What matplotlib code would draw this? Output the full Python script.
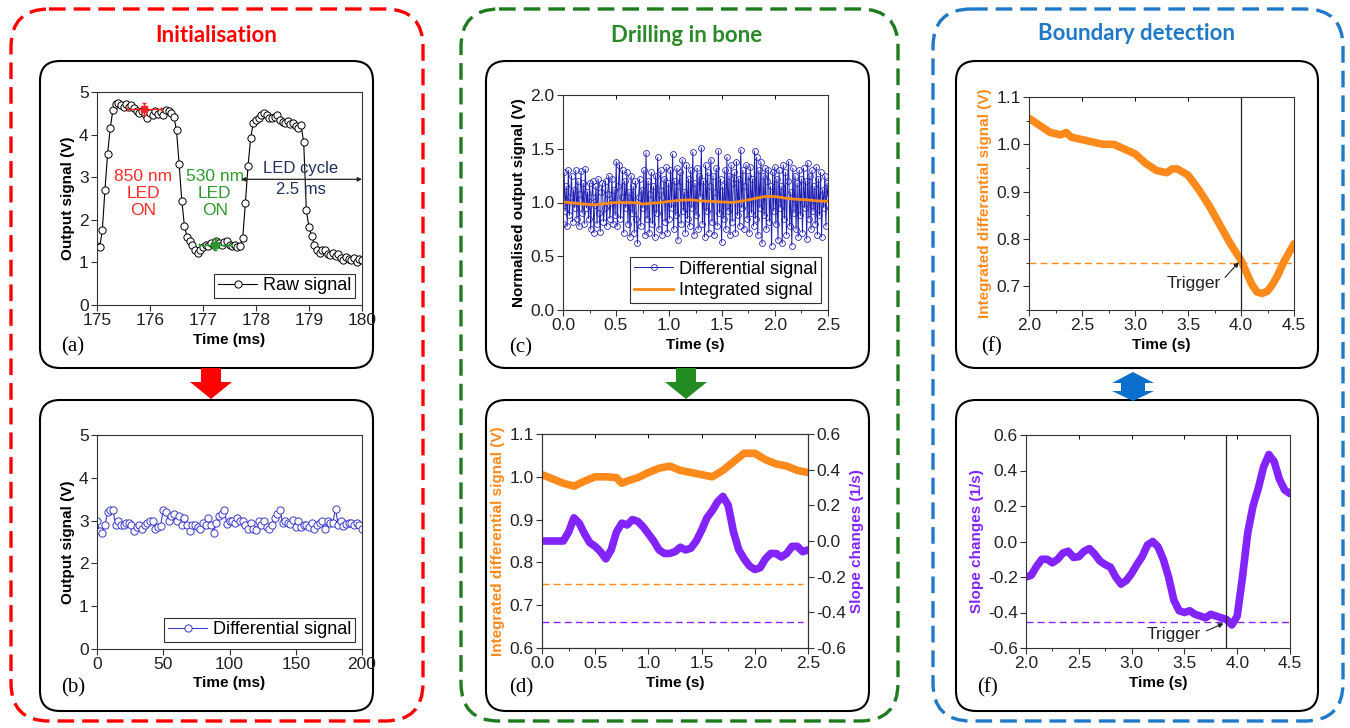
import numpy as np
import matplotlib
matplotlib.use('Agg')
import matplotlib.pyplot as plt
from matplotlib.patches import FancyBboxPatch, Polygon
from matplotlib.ticker import MultipleLocator, FormatStrFormatter, AutoMinorLocator

plt.rcParams['font.family'] = ['Liberation Sans', 'DejaVu Sans']
plt.rcParams['axes.unicode_minus'] = False

# ---- data ----
raw_signal = [1.38, 1.35, 1.75, 2.70, 3.55, 4.15, 4.58, 4.72, 4.75, 4.70,
              4.65, 4.72, 4.65, 4.70, 4.62, 4.55, 4.50, 4.55, 4.48, 4.40,
              4.50, 4.45, 4.55, 4.48, 4.52, 4.45, 4.58, 4.55, 4.50, 4.42,
              4.10, 3.30, 2.45, 1.85, 1.60, 1.50, 1.40, 1.30, 1.22, 1.30,
              1.35, 1.40, 1.38, 1.45, 1.42, 1.50, 1.45, 1.40, 1.48, 1.50,
              1.42, 1.38, 1.40, 1.35, 1.38, 1.58, 2.40, 3.27, 3.93, 4.27,
              4.35, 4.38, 4.45, 4.50, 4.45, 4.40, 4.38, 4.42, 4.45, 4.35,
              4.30, 4.28, 4.32, 4.25, 4.28, 4.20, 4.15, 4.22, 3.82, 2.22,
              1.82, 1.62, 1.42, 1.28, 1.22, 1.30, 1.28, 1.20, 1.18, 1.22,
              1.15, 1.20, 1.10, 1.05, 1.12, 1.08, 1.05, 1.10, 1.02, 1.08, 1.06]
raw_time = np.linspace(175, 180, len(raw_signal))

diff_ms = [3.00, 2.75, 2.72, 2.90, 3.20, 3.25, 3.25, 2.90, 3.00, 2.90,
           2.90, 2.95, 2.95, 2.90, 2.75, 2.85, 2.90, 2.80, 2.90, 2.95,
           3.00, 2.98, 2.80, 2.85, 2.88, 3.25, 3.20, 3.00, 3.10, 3.15,
           2.98, 3.10, 2.90, 3.05, 2.90, 2.75, 2.90, 2.90, 2.85, 2.80,
           2.95, 2.90, 3.05, 2.90, 2.72, 2.95, 3.10, 3.15, 3.25, 2.92,
           3.00, 3.00, 2.95, 3.05, 2.98, 3.00, 2.90, 2.80, 2.95, 2.80,
           2.78, 2.98, 2.90, 3.00, 2.85, 2.80, 2.90, 3.05, 3.15, 3.25,
           2.95, 2.98, 2.95, 2.92, 3.02, 2.85, 3.00, 2.85, 2.90, 2.90,
           2.85, 2.95, 2.80, 2.90, 2.95, 3.00, 2.80, 3.00, 2.95, 2.95,
           3.28, 2.90, 3.00, 2.88, 2.92, 2.95, 2.95, 2.90, 2.95, 2.90, 2.80]
diff_ms_time = np.linspace(0, 200, len(diff_ms))

norm_diff = [
    0.80, 1.28, 0.92, 1.15, 0.78, 1.30, 0.88, 1.05, 1.25, 0.82, 1.12, 0.95, 1.30, 0.85, 1.20, 0.78, 1.08, 1.29, 0.90, 1.18, 0.80, 1.31, 0.95, 1.10, 0.85,
    1.18, 0.75, 1.05, 1.20, 0.72, 0.98, 1.15, 0.80, 1.22, 0.90, 0.73, 1.10, 1.18, 0.82, 0.95, 1.20, 0.78, 1.08, 1.25, 0.85, 1.00, 1.22, 0.80, 1.12, 0.88,
    1.38, 0.78, 1.15, 1.35, 0.85, 1.05, 1.30, 0.72, 1.20, 0.95, 1.28, 0.80, 1.10, 0.68, 1.25, 0.90, 1.15, 0.72, 1.20, 0.85, 0.62, 1.05, 1.22, 0.78, 1.12,
    0.95, 1.30, 0.70, 1.46, 0.85, 1.20, 0.72, 1.08, 1.28, 0.80, 1.15, 0.68, 1.25, 0.90, 1.42, 0.75, 1.12, 1.30, 0.70, 1.05, 1.22, 0.82, 1.33, 0.72, 1.18,
    0.85, 1.30, 0.95, 1.45, 0.75, 1.20, 0.88, 1.32, 0.65, 1.15, 1.28, 0.80, 1.40, 0.92, 1.10, 0.72, 1.35, 0.85, 1.22, 0.78, 1.30, 0.95, 1.47, 0.70, 1.18,
    0.88, 1.32, 0.75, 1.25, 1.05, 1.51, 0.80, 1.20, 0.68, 1.35, 0.92, 1.28, 0.72, 1.15, 1.40, 0.82, 1.25, 0.70, 1.10, 1.32, 0.78, 1.48, 0.90, 1.22, 0.63,
    1.15, 0.85, 1.30, 0.75, 1.42, 0.92, 1.25, 0.70, 1.35, 0.82, 1.18, 1.28, 0.72, 1.38, 0.88, 1.22, 0.78, 1.49, 0.95, 1.30, 0.75, 1.15, 1.35, 0.85, 1.25,
    0.72, 1.33, 0.90, 1.22, 0.78, 1.48, 0.85, 1.42, 0.70, 1.30, 0.95, 1.38, 0.62, 1.25, 0.88, 1.32, 0.75, 1.20, 1.30, 0.82, 1.15, 0.60, 1.28, 0.92, 1.33,
    0.80, 1.22, 0.65, 1.30, 0.95, 1.15, 0.62, 1.35, 0.85, 1.28, 0.70, 1.20, 1.38, 0.78, 1.10, 0.60, 1.32, 0.90, 1.25, 0.75, 1.18, 0.68, 1.30, 0.88, 1.22,
    0.72, 1.32, 0.95, 1.20, 0.66, 1.37, 0.85, 1.25, 0.75, 1.30, 0.92, 1.15, 0.80, 1.33, 0.70, 1.22, 0.88, 1.28, 0.68, 1.12, 0.95, 1.25, 0.78, 1.18, 1.05]
norm_time = np.linspace(0, 2.5, len(norm_diff))

integ_time = [0.0, 0.1, 0.2, 0.3, 0.4, 0.5, 0.6, 0.7, 0.75, 0.8, 0.9, 1.0, 1.1, 1.2,
              1.3, 1.4, 1.5, 1.6, 1.7, 1.8, 1.9, 2.0, 2.1, 2.2, 2.3, 2.4, 2.5]
integ_sig = [1.005, 0.995, 0.985, 0.978, 0.99, 1.0, 1.0, 0.998, 0.985, 0.99, 0.998,
             1.01, 1.02, 1.025, 1.015, 1.01, 1.005, 1.0, 1.015, 1.035, 1.055, 1.055,
             1.04, 1.03, 1.025, 1.015, 1.01]

slope_time = [0.0, 0.1, 0.2, 0.25, 0.3, 0.35, 0.4, 0.45, 0.5, 0.55, 0.6, 0.65, 0.7,
              0.75, 0.8, 0.85, 0.9, 0.95, 1.0, 1.05, 1.1, 1.15, 1.2, 1.25, 1.3, 1.35,
              1.4, 1.45, 1.5, 1.55, 1.6, 1.65, 1.7, 1.75, 1.8, 1.85, 1.9, 1.95, 2.0,
              2.05, 2.1, 2.15, 2.2, 2.25, 2.3, 2.35, 2.4, 2.45, 2.5]
slope_sig = [0.0, 0.0, 0.0, 0.05, 0.13, 0.10, 0.04, -0.01, -0.03, -0.06, -0.10,
             -0.05, 0.05, 0.10, 0.09, 0.12, 0.11, 0.08, 0.04, 0.0, -0.05, -0.07,
             -0.07, -0.06, -0.035, -0.05, -0.04, 0.0, 0.06, 0.13, 0.17, 0.22, 0.25,
             0.20, 0.05, -0.05, -0.10, -0.14, -0.16, -0.15, -0.10, -0.07, -0.07,
             -0.09, -0.07, -0.03, -0.03, -0.06, -0.05]

bound_time = [2.0, 2.1, 2.2, 2.3, 2.35, 2.4, 2.5, 2.6, 2.7, 2.8, 2.9, 3.0, 3.1, 3.2,
              3.3, 3.35, 3.4, 3.5, 3.6, 3.7, 3.8, 3.9, 4.0, 4.05, 4.1, 4.15, 4.2,
              4.25, 4.3, 4.35, 4.4, 4.45, 4.5]
bound_integ = [1.055, 1.04, 1.025, 1.02, 1.025, 1.015, 1.01, 1.005, 1.0, 1.0, 0.99,
               0.98, 0.96, 0.945, 0.94, 0.948, 0.948, 0.935, 0.905, 0.87, 0.83, 0.79,
               0.755, 0.73, 0.705, 0.688, 0.685, 0.69, 0.705, 0.725, 0.75, 0.77, 0.79]

bslope_time = [2.0, 2.05, 2.1, 2.15, 2.2, 2.25, 2.3, 2.35, 2.4, 2.45, 2.5, 2.55, 2.6,
               2.65, 2.7, 2.75, 2.8, 2.85, 2.9, 2.95, 3.0, 3.05, 3.1, 3.15, 3.2,
               3.25, 3.3, 3.35, 3.4, 3.45, 3.5, 3.55, 3.6, 3.65, 3.7, 3.75, 3.8,
               3.85, 3.9, 3.95, 4.0, 4.05, 4.1, 4.15, 4.2, 4.25, 4.3, 4.35, 4.4,
               4.45, 4.5]
bslope_sig = [-0.20, -0.19, -0.14, -0.10, -0.10, -0.12, -0.10, -0.065, -0.055, -0.09,
              -0.085, -0.055, -0.04, -0.07, -0.11, -0.13, -0.145, -0.20, -0.24, -0.22,
              -0.18, -0.13, -0.085, -0.02, 0.0, -0.03, -0.10, -0.20, -0.33, -0.39,
              -0.40, -0.39, -0.41, -0.42, -0.43, -0.41, -0.42, -0.43, -0.44, -0.47,
              -0.42, -0.20, 0.05, 0.20, 0.30, 0.42, 0.49, 0.45, 0.35, 0.29, 0.27]

integ_trigger = 0.75
slope_trigger = -0.455

ORANGE = '#ff8a1c'
PURPLE = '#8324ff'

W, H = 1350, 728
fig = plt.figure(figsize=(13.5, 7.28), dpi=100)

# background layer in pixel coordinates for frames, arrows and labels
bg = fig.add_axes([0, 0, 1, 1])
bg.set_xlim(0, W)
bg.set_ylim(H, 0)
bg.axis('off')


def frame(x0, y0, x1, y1, color, r, lw, ls='-'):
    p = FancyBboxPatch((x0, y0), x1 - x0, y1 - y0,
                       boxstyle='round,pad=0,rounding_size=%d' % r,
                       fc='none', ec=color, lw=lw, ls=ls)
    bg.add_patch(p)


for (x0, x1, col) in [(11, 423, '#ff0000'), (461, 898, '#1e7b1e'), (933, 1343, '#1f78c8')]:
    frame(x0, 9, x1, 721, col, 38, 2.4, (0, (5, 2.4)))

bg.text(216, 36, 'Initialisation', color='#ff0000', fontsize=16, fontweight='bold',
        ha='center', va='center', family='Lato')
bg.text(687, 36, 'Drilling in bone', color='#2a8a2a', fontsize=16, fontweight='bold',
        ha='center', va='center', family='Lato')
bg.text(1136, 34, 'Boundary detection', color='#1f78c8', fontsize=16, fontweight='bold',
        ha='center', va='center', family='Lato')

for (x0, x1) in [(40, 373), (486, 869), (956, 1318)]:
    frame(x0, 61, x1, 368, 'black', 20, 1.5)
    frame(x0, 400, x1, 711, 'black', 20, 1.5)

# arrows between the panels
def down_arrow(cx, color):
    pts = [(cx - 10, 368), (cx + 10, 368), (cx + 10, 382), (cx + 21, 382),
           (cx, 399), (cx - 21, 382), (cx - 10, 382)]
    bg.add_patch(Polygon(pts, closed=True, fc=color, ec='none', zorder=3))


down_arrow(211, '#ff0000')
down_arrow(686, '#228b22')
cx = 1133
bg.add_patch(Polygon([(cx, 372), (cx + 21, 383), (cx + 12, 383), (cx + 12, 391),
                      (cx + 21, 391), (cx, 401), (cx - 21, 391), (cx - 12, 391),
                      (cx - 12, 383), (cx - 21, 383)], closed=True,
                     fc='#0a6ecc', ec='none', zorder=3))

for lab, x, y in [('(a)', 73, 347), ('(b)', 73, 688), ('(c)', 521, 348),
                  ('(d)', 521, 688), ('(f)', 992, 347), ('(f)', 988, 688)]:
    bg.text(x, y, lab, fontsize=15, ha='center', va='center', family='Liberation Serif')


def px_axes(x0, y0, x1, y1):
    return fig.add_axes([x0 / W, 1 - y1 / H, (x1 - x0) / W, (y1 - y0) / H])


TICK = 12.5


def style(ax, minor=False):
    for s in ax.spines.values():
        s.set_linewidth(0.8)
        s.set_color('#333333')
    ax.tick_params(labelsize=TICK, direction='out', length=4, width=0.8,
                   colors='#333333', labelcolor='#222222', pad=2)
    if minor:
        ax.xaxis.set_minor_locator(AutoMinorLocator(2))
        ax.tick_params(which='minor', length=2.5, width=0.7, colors='#333333')
        top = ax.secondary_xaxis('top')
        top.xaxis.set_major_locator(ax.xaxis.get_major_locator())
        top.tick_params(direction='in', labeltop=False, length=3, width=0.7)
        top.spines['top'].set_visible(False)


LBL = dict(fontsize=11, fontweight='bold', labelpad=3)
LEG = dict(fontsize=13, fancybox=False, edgecolor='#333333', handlelength=2.2,
           borderpad=0.2, handletextpad=0.3, labelspacing=0.25, framealpha=1,
           borderaxespad=0.4)

# (a) raw signal
ax = px_axes(97, 92, 362, 305)
ax.plot(raw_time, raw_signal, '-o', color='black', lw=0.8, ms=5.2, mfc='white',
        mec='black', mew=0.7, label='Raw signal')
ax.errorbar([175.88], [4.6], xerr=0.32, yerr=0.15, fmt='s', color='#ff2020', ms=4.5,
            elinewidth=1, capsize=1.5)
ax.errorbar([177.22], [1.42], xerr=0.3, yerr=0.14, fmt='s', color='#2a9a2a', ms=4.5,
            elinewidth=1, capsize=1.5)
ax.text(175.87, 2.62, '850 nm\nLED\nON', color='#ff2a2a', fontsize=12.5, ha='center',
        va='center', linespacing=1.15)
ax.text(177.22, 2.62, '530 nm\nLED\nON', color='#2e9a2e', fontsize=12.5, ha='center',
        va='center', linespacing=1.15)
ax.annotate('', xy=(177.72, 2.95), xytext=(180, 2.95),
            arrowprops=dict(arrowstyle='<|-|>', color='#222222', lw=0.9,
                            mutation_scale=6, shrinkA=0, shrinkB=0))
ax.text(178.85, 3.2, 'LED cycle', color='#1f2f5f', fontsize=12, ha='center', va='center')
ax.text(178.85, 2.7, '2.5 ms', color='#1f2f5f', fontsize=12, ha='center', va='center')
ax.set_xlim(175, 180)
ax.set_ylim(0, 5)
ax.xaxis.set_major_locator(MultipleLocator(1))
ax.yaxis.set_major_locator(MultipleLocator(1))
ax.set_xlabel('Time (ms)', **LBL)
ax.set_ylabel('Output signal (V)', **LBL)
style(ax)
ax.legend(loc='lower right', **LEG).get_frame().set_linewidth(0.8)

# (b) differential signal
ax = px_axes(97, 435, 362, 649)
ax.plot(diff_ms_time, diff_ms, '-o', color='#3a3acc', lw=0.8, ms=5.2, mfc='white',
        mec='#3a3acc', mew=0.7, label='Differential signal')
ax.set_xlim(0, 200)
ax.set_ylim(0, 5)
ax.xaxis.set_major_locator(MultipleLocator(50))
ax.yaxis.set_major_locator(MultipleLocator(1))
ax.set_xlabel('Time (ms)', **LBL)
ax.set_ylabel('Output signal (V)', **LBL)
style(ax)
ax.legend(loc='lower right', **LEG).get_frame().set_linewidth(0.8)

# (c) normalised signal
ax = px_axes(563, 95, 828, 310)
ax.plot(norm_time, norm_diff, '-o', color='#1c1cb0', lw=0.7, ms=4.2, mfc='none',
        mec='#2a2ab8', mew=0.6, label='Differential signal')
ax.plot(integ_time, integ_sig, '-', color=ORANGE, lw=2, label='Integrated signal')
ax.set_xlim(0, 2.5)
ax.set_ylim(0, 2.0)
ax.xaxis.set_major_locator(MultipleLocator(0.5))
ax.yaxis.set_major_locator(MultipleLocator(0.5))
ax.xaxis.set_major_formatter(FormatStrFormatter('%.1f'))
ax.yaxis.set_major_formatter(FormatStrFormatter('%.1f'))
ax.set_xlabel('Time (s)', **LBL)
ax.set_ylabel('Normalised output signal (V)', **LBL)
style(ax, minor=True)
ax.legend(loc='lower right', **LEG).get_frame().set_linewidth(0.8)

# (d) integrated + slope
ax = px_axes(542, 434, 808, 648)
ax.plot(integ_time, integ_sig, '-', color=ORANGE, lw=5.5, solid_capstyle='round')
ax.axhline(integ_trigger, xmin=0, xmax=0.98, color=ORANGE, lw=1, ls=(0, (5, 3)))
ax.set_xlim(0, 2.5)
ax.set_ylim(0.6, 1.1)
ax.xaxis.set_major_locator(MultipleLocator(0.5))
ax.yaxis.set_major_locator(MultipleLocator(0.1))
ax.xaxis.set_major_formatter(FormatStrFormatter('%.1f'))
ax.yaxis.set_major_formatter(FormatStrFormatter('%.1f'))
ax.set_xlabel('Time (s)', **LBL)
ax.set_ylabel('Integrated differential signal (V)', color=ORANGE, **LBL)
style(ax, minor=True)
ax2 = ax.twinx()
ax2.plot(slope_time, slope_sig, '-', color=PURPLE, lw=5.5, solid_capstyle='round')
ax2.axhline(slope_trigger, xmin=0, xmax=0.98, color=PURPLE, lw=1, ls=(0, (5, 3)))
ax2.set_ylim(-0.6, 0.6)
ax2.yaxis.set_major_locator(MultipleLocator(0.2))
ax2.yaxis.set_major_formatter(FormatStrFormatter('%.1f'))
ax2.set_ylabel('Slope changes (1/s)', color=PURPLE, **LBL)
for s in ax2.spines.values():
    s.set_linewidth(0.8)
    s.set_color('#333333')
ax2.tick_params(labelsize=TICK, direction='out', length=4, width=0.8, colors='#333333',
                labelcolor='#222222', pad=2)

# (f) boundary integrated signal
ax = px_axes(1029, 97, 1294, 310)
ax.plot(bound_time, bound_integ, '-', color=ORANGE, lw=5.5, solid_capstyle='round')
ax.axhline(integ_trigger, color=ORANGE, lw=1, ls=(0, (5, 3)))
ax.axvline(4.0, color='#222222', lw=0.9)
ax.annotate('Trigger', xy=(3.98, 0.751), xytext=(3.55, 0.705), fontsize=12.5,
            ha='center', va='center', color='#222222',
            arrowprops=dict(arrowstyle='-|>', color='#222222', lw=0.8, mutation_scale=7,
                            shrinkA=2, shrinkB=0, relpos=(1, 0.6)))
ax.set_xlim(2.0, 4.5)
ax.set_ylim(0.65, 1.1)
ax.xaxis.set_major_locator(MultipleLocator(0.5))
ax.yaxis.set_major_locator(MultipleLocator(0.1))
ax.xaxis.set_major_formatter(FormatStrFormatter('%.1f'))
ax.yaxis.set_major_formatter(FormatStrFormatter('%.1f'))
ax.set_xlabel('Time (s)', **LBL)
ax.set_ylabel('Integrated differential signal (V)', color=ORANGE, **LBL)
style(ax, minor=True)
ax.yaxis.set_minor_locator(AutoMinorLocator(2))

# (f) boundary slope
ax = px_axes(1026, 435, 1290, 648)
ax.plot(bslope_time, bslope_sig, '-', color=PURPLE, lw=5.5, solid_capstyle='round')
ax.axhline(slope_trigger, color=PURPLE, lw=1, ls=(0, (5, 3)))
ax.axvline(3.89, color='#222222', lw=0.9)
ax.annotate('Trigger', xy=(3.87, -0.462), xytext=(3.4, -0.525), fontsize=12.5,
            ha='center', va='center', color='#222222',
            arrowprops=dict(arrowstyle='-|>', color='#222222', lw=0.8, mutation_scale=7,
                            shrinkA=2, shrinkB=0, relpos=(1, 0.6)))
ax.set_xlim(2.0, 4.5)
ax.set_ylim(-0.6, 0.6)
ax.xaxis.set_major_locator(MultipleLocator(0.5))
ax.yaxis.set_major_locator(MultipleLocator(0.2))
ax.xaxis.set_major_formatter(FormatStrFormatter('%.1f'))
ax.yaxis.set_major_formatter(FormatStrFormatter('%.1f'))
ax.set_xlabel('Time (s)', **LBL)
ax.set_ylabel('Slope changes (1/s)', color=PURPLE, **LBL)
style(ax, minor=True)

fig.savefig('out.png', dpi=100)
